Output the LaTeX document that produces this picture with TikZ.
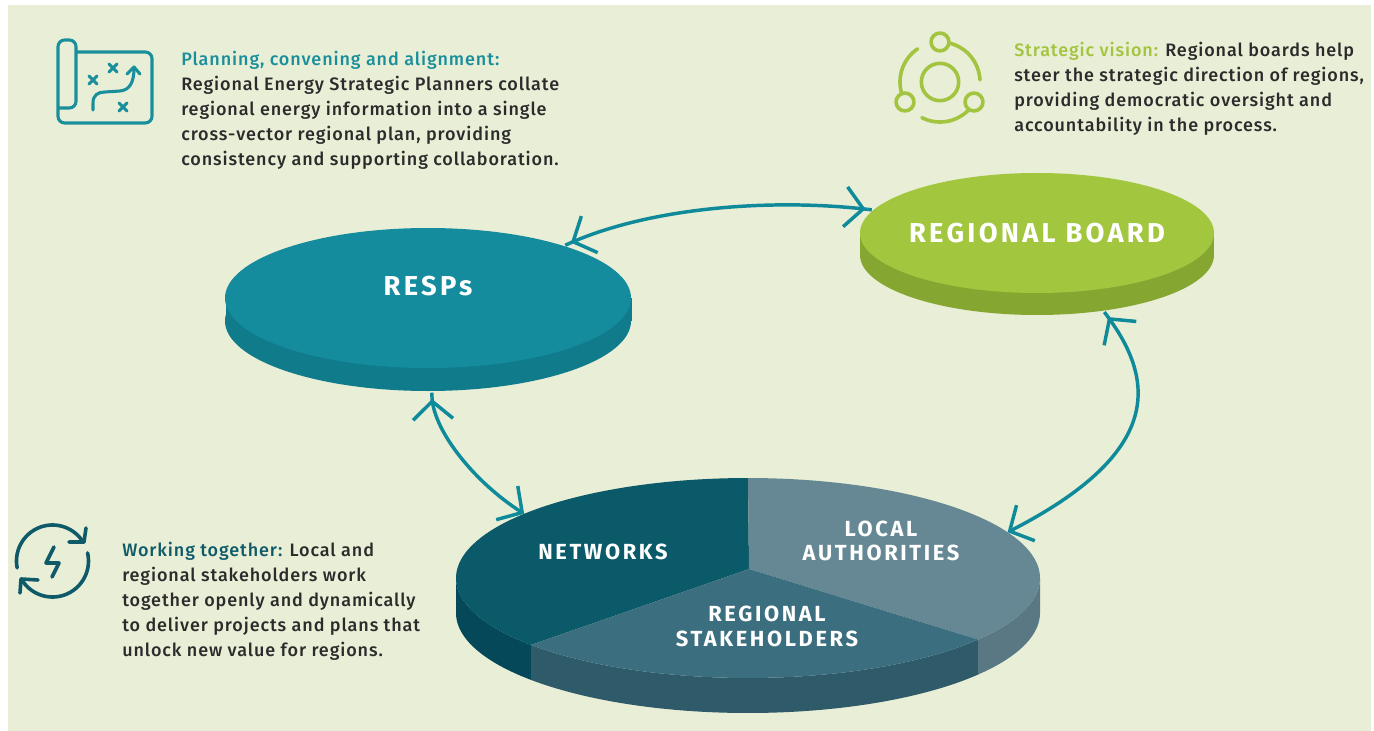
\documentclass[tikz,border=0pt]{standalone}
\usepackage{fontspec}
\setmainfont{Fira Sans}
\newfontfamily\bodyf[LetterSpace=5]{Fira Sans Medium}
\newfontfamily\labf[LetterSpace=12]{Fira Sans}
\usetikzlibrary{arrows.meta,shapes.geometric}
\definecolor{bgc}{HTML}{E9EED6}
\definecolor{linkc}{HTML}{0F8A9B}
\definecolor{rtop}{HTML}{148C9E}
\definecolor{rside}{HTML}{0F7B8B}
\definecolor{btop}{HTML}{A2C63E}
\definecolor{bside}{HTML}{86A632}
\definecolor{ntop}{HTML}{0A5A6A}
\definecolor{nside}{HTML}{04485A}
\definecolor{stop}{HTML}{3B6E7F}
\definecolor{sside}{HTML}{2E5A6A}
\definecolor{ltop}{HTML}{658894}
\definecolor{lside}{HTML}{5A7883}
\definecolor{txt}{HTML}{2B2B2B}
\definecolor{tealt}{HTML}{1A8F9C}
\definecolor{greent}{HTML}{A2C43F}
\definecolor{darkt}{HTML}{0E5A69}
\tikzset{
  disc/.style={ellipse,inner sep=0pt,outer sep=0pt},
  para/.style={anchor=north west,inner sep=0pt,align=left,text=txt,font=\bodyf\fontsize{13.5pt}{18.75pt}\selectfont},
  disclabel/.style={inner sep=0pt,align=center,text=white,font=\labf\bfseries\fontsize{16.4pt}{18.5pt}\selectfont},
  biglabel/.style={disclabel,font=\labf\bfseries\fontsize{20.5pt}{22pt}\selectfont},
  hbarb/.tip={Straight Barb[length=13.5pt,width=30pt,line width=2.6pt]},
  over/.tip={Rectangle[length=6pt,width=2.6pt]},
  link/.style={draw=linkc,line width=2.6pt},
  iconl/.style={line width=2.3pt,line cap=round,line join=round}
}
\begin{document}
\begin{tikzpicture}[x=0.75pt,y=-0.75pt]
\useasboundingbox (0,0) rectangle (1374,731);
\fill[white] (0,0) rectangle (1374,731);
\fill[bgc] (8,5) rectangle (1371,731);
% RESP disc
\node[disc,fill=rside,minimum width=304.5pt,minimum height=105pt] (respbase) at (428,321) {};
\fill[rside] (226,298) rectangle (632,321);
\node[disc,fill=rtop,minimum width=304.5pt,minimum height=105pt] (resp) at (428,298) {};
\node[biglabel] (resplabel) at (428,286) {RESPs};
% Board disc
\node[disc,fill=bside,minimum width=265.5pt,minimum height=90pt] (boardbase) at (1037,255) {};
\fill[bside] (860,233) rectangle (1214,255);
\node[disc,fill=btop,minimum width=265.5pt,minimum height=90pt] (board) at (1037,233) {};
\node[biglabel] (boardlabel) at (1037,233) {REGIONAL BOARD};
% Pie
\node[disc,minimum width=438pt,minimum height=150pt] (pie) at (748,578) {};
\fill[nside] plot[domain=138:180,samples=30] ({748+292*cos(\x)},{578+100*sin(\x)}) -- plot[domain=180:138,samples=30] ({748+292*cos(\x)},{613+100*sin(\x)}) -- cycle;
\fill[sside] plot[domain=38:138,samples=60] ({748+292*cos(\x)},{578+100*sin(\x)}) -- plot[domain=138:38,samples=60] ({748+292*cos(\x)},{613+100*sin(\x)}) -- cycle;
\fill[lside] plot[domain=0:38,samples=30] ({748+292*cos(\x)},{578+100*sin(\x)}) -- plot[domain=38:0,samples=30] ({748+292*cos(\x)},{613+100*sin(\x)}) -- cycle;
\fill[ntop] (749,569) -- plot[domain=270:138,samples=80] ({748+292*cos(\x)},{578+100*sin(\x)}) -- cycle;
\fill[ltop] (749,569) -- plot[domain=-90:38,samples=80] ({748+292*cos(\x)},{578+100*sin(\x)}) -- cycle;
\fill[stop] (749,569) -- plot[domain=38:138,samples=60] ({748+292*cos(\x)},{578+100*sin(\x)}) -- cycle;
\node[disclabel] (netlabel) at (603,552) {NETWORKS};
\node[disclabel] (loclabel) at (881,541) {LOCAL\\AUTHORITIES};
\node[disclabel] (reglabel) at (767,626.5) {REGIONAL\\STAKEHOLDERS};
% Connectors
\draw[link,{over[] hbarb[]}-{hbarb[] over[]}] (resp.21) .. controls +(85,-38) and +(-105,-12) .. (board.172);
\draw[link,{over[] hbarb[]}-{hbarb[]}] (boardbase.-40) .. controls +(52,70) and +(156,-80) .. (pie.10);
\draw[link,{over[] hbarb[]}-{hbarb[]}] (respbase.-87.5) .. controls +(2,40) and +(-50,-32) .. (pie.164);
% Paragraphs
\node[para] (p1) at (181,51) {\textcolor{tealt}{Planning, convening and alignment:}\\Regional Energy Strategic Planners collate\\regional energy information into a single\\cross-vector regional plan, providing\\consistency and supporting collaboration.};
\node[para] (p2) at (1014,42) {\textcolor{greent}{Strategic vision:} Regional boards help\\steer the strategic direction of regions,\\providing democratic oversight and\\accountability in the process.};
\node[para] (p3) at (122,542) {\textcolor{darkt}{Working together:} Local and\\regional stakeholders work\\together openly and dynamically\\to deliver projects and plans that\\unlock new value for regions.};
% Map icon
\begin{scope}[iconl,draw=tealt]
\draw[rounded corners=5pt] (76,52) -- (152,52) -- (152,123) -- (58,123) -- (58,40) -- (76,40) -- (76,108) -- (58,108);
\draw (89,76) -- (97,84) (97,76) -- (89,84) (109,64) -- (117,72) (117,64) -- (109,72) (119,103) -- (127,111) (127,103) -- (119,111);
\draw (93,110) -- (93,103) .. controls (93,95) and (98,92) .. (105,92) -- (120,91) .. controls (130,90) and (134,82) .. (134,68);
\draw (127,74) -- (134,67) -- (140,74);
\end{scope}
% Vision icon
\begin{scope}[iconl,draw=greent,line width=2.7pt]
\draw (940,82) circle[radius=14pt];
\draw (940,42) circle[radius=6.7pt] (905,102) circle[radius=6.7pt] (974,102) circle[radius=6.7pt];
\draw plot[domain=-76:-3,samples=30] ({940+40*cos(\x)},{82+40*sin(\x)});
\draw plot[domain=164:236,samples=30] ({940+40*cos(\x)},{82+40*sin(\x)});
\draw plot[domain=45:117,samples=30] ({940+40*cos(\x)},{82+40*sin(\x)});
\end{scope}
% Working icon
\begin{scope}[iconl,draw=darkt,line width=2.7pt]
\draw plot[domain=169:329,samples=40] ({52.5+36*cos(\x)},{561+36*sin(\x)});
\draw plot[domain=-13:150,samples=40] ({52.5+36*cos(\x)},{561+36*sin(\x)});
\draw (86,528) -- (84,542) -- (69,542);
\draw (20,593) -- (21,579) -- (38,580);
\draw (54,547) -- (46,563) -- (59,563) -- (52,577);
\end{scope}
\end{tikzpicture}
\end{document}
